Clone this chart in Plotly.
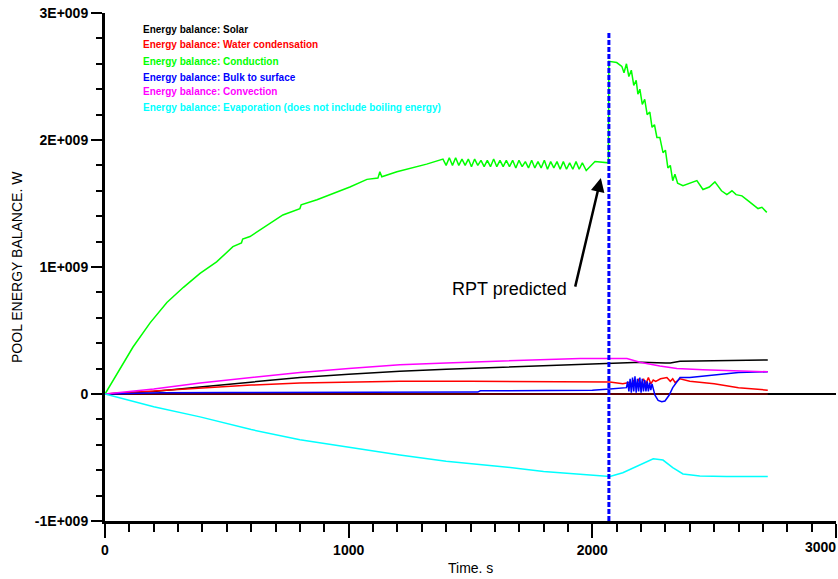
import plotly.graph_objects as go

# ---- pool energy balance data (time in s, power in W) ----
solar_t = [0, 200, 390, 600, 800, 1000, 1210, 1400, 1621, 1800, 1950, 2100, 2200, 2300,
           2320, 2360, 2500, 2720]
solar_v = [0, 0.02e9, 0.055e9, 0.095e9, 0.13e9, 0.155e9, 0.18e9, 0.195e9, 0.21e9, 0.225e9,
           0.235e9, 0.245e9, 0.25e9, 0.245e9, 0.245e9, 0.257e9, 0.262e9, 0.268e9]

cond_water_t = [0, 200, 390, 600, 800, 1000, 1210, 1500, 1800, 2000, 2072, 2125, 2150, 2160,
                2170, 2180, 2190, 2200, 2210, 2220, 2230, 2240, 2250, 2260, 2280, 2306, 2320,
                2330, 2340, 2360, 2400, 2500, 2600, 2720]
cond_water_v = [0, 0.025e9, 0.047e9, 0.07e9, 0.087e9, 0.095e9, 0.1e9, 0.1e9, 0.1e9, 0.1e9,
                0.095e9, 0.08e9, 0.09e9, 0.07e9, 0.11e9, 0.06e9, 0.12e9, 0.07e9, 0.12e9,
                0.08e9, 0.13e9, 0.08e9, 0.11e9, 0.10e9, 0.12e9, 0.13e9, 0.10e9, 0.12e9,
                0.09e9, 0.12e9, 0.10e9, 0.08e9, 0.05e9, 0.03e9]

conduction_t = [0, 48, 115, 185, 254, 322, 390, 458, 525, 560, 565, 595, 665, 730, 800, 805,
                870, 936, 1005, 1075, 1120, 1128, 1136, 1198, 1260, 1320, 1387,
                1400, 1413, 1426, 1439, 1452, 1465, 1478, 1491, 1504, 1517, 1530, 1543, 1556,
                1569, 1582, 1595, 1608, 1621, 1634, 1647, 1660, 1673, 1686, 1699, 1712, 1725,
                1738, 1751, 1764, 1777, 1790, 1803, 1816, 1829, 1842, 1855, 1868, 1881, 1894,
                1907, 1920, 1933, 1946, 1959, 1975, 2011, 2066,
                2068, 2100, 2121, 2130, 2140, 2150, 2160, 2170, 2180, 2187, 2195, 2205, 2215,
                2225, 2236, 2245, 2255, 2265, 2277, 2290, 2300, 2310, 2320, 2330, 2339, 2350,
                2372, 2400, 2429, 2454, 2480, 2503, 2530, 2552, 2573, 2590, 2614, 2640, 2680,
                2696, 2716]
conduction_v = [0, 0.155e9, 0.37e9, 0.56e9, 0.72e9, 0.84e9, 0.95e9, 1.04e9, 1.16e9, 1.19e9,
                1.22e9, 1.24e9, 1.33e9, 1.41e9, 1.46e9, 1.49e9, 1.53e9, 1.58e9, 1.63e9, 1.69e9,
                1.70e9, 1.75e9, 1.71e9, 1.75e9, 1.78e9, 1.81e9, 1.85e9,
                1.80e9, 1.86e9, 1.80e9, 1.86e9, 1.80e9, 1.85e9, 1.80e9, 1.85e9, 1.79e9, 1.85e9,
                1.80e9, 1.84e9, 1.79e9, 1.84e9, 1.79e9, 1.85e9, 1.79e9, 1.84e9, 1.79e9, 1.84e9,
                1.79e9, 1.84e9, 1.78e9, 1.84e9, 1.79e9, 1.83e9, 1.78e9, 1.84e9, 1.78e9, 1.83e9,
                1.78e9, 1.84e9, 1.77e9, 1.83e9, 1.78e9, 1.83e9, 1.77e9, 1.83e9, 1.77e9, 1.82e9,
                1.77e9, 1.83e9, 1.77e9, 1.82e9, 1.76e9, 1.83e9, 1.82e9,
                2.62e9, 2.61e9, 2.58e9, 2.53e9, 2.60e9, 2.50e9, 2.55e9, 2.43e9, 2.47e9, 2.36e9,
                2.40e9, 2.28e9, 2.32e9, 2.20e9, 2.22e9, 2.10e9, 2.12e9, 2.02e9, 2.02e9, 1.90e9,
                1.92e9, 1.78e9, 1.80e9, 1.68e9, 1.73e9, 1.66e9, 1.64e9, 1.66e9, 1.68e9, 1.61e9,
                1.63e9, 1.67e9, 1.60e9, 1.57e9, 1.60e9, 1.57e9, 1.56e9, 1.52e9, 1.46e9, 1.47e9,
                1.43e9]

bulk_t = [0, 100, 230, 500, 800, 1100, 1530, 1540, 1800, 2000, 2072, 2125, 2140, 2145, 2150,
          2155, 2160, 2165, 2170, 2175, 2180, 2185, 2190, 2195, 2200, 2205, 2210, 2215, 2220,
          2225, 2230, 2235, 2240, 2245, 2250, 2257, 2270, 2285, 2298, 2315, 2330, 2347, 2360,
          2400, 2450, 2500, 2550, 2600, 2720]
bulk_v = [0, 0.005e9, 0.01e9, 0.012e9, 0.013e9, 0.015e9, 0.015e9, 0.025e9, 0.027e9, 0.03e9,
          0.04e9, 0.045e9, 0.05e9, 0.10e9, 0.02e9, 0.12e9, 0.01e9, 0.13e9, 0.02e9, 0.14e9,
          0.01e9, 0.12e9, 0.02e9, 0.13e9, 0.01e9, 0.12e9, 0.02e9, 0.11e9, 0.02e9, 0.10e9,
          0.02e9, 0.09e9, 0.03e9, 0.08e9, 0.03e9, -0.01e9, -0.05e9, -0.06e9, -0.055e9,
          -0.01e9, 0.05e9, 0.10e9, 0.13e9, 0.13e9, 0.14e9, 0.15e9, 0.16e9, 0.17e9, 0.175e9]

convection_t = [0, 200, 390, 600, 800, 1000, 1210, 1400, 1621, 1800, 1950, 2142, 2195, 2277,
                2347, 2454, 2600, 2720]
convection_v = [0, 0.04e9, 0.087e9, 0.13e9, 0.17e9, 0.20e9, 0.23e9, 0.245e9, 0.26e9, 0.275e9,
                0.28e9, 0.28e9, 0.25e9, 0.22e9, 0.20e9, 0.19e9, 0.18e9, 0.175e9]

evap_t = [0, 100, 200, 390, 600, 800, 1000, 1210, 1400, 1621, 1800, 1950, 2072, 2125, 2195,
          2250, 2290, 2330, 2372, 2441, 2550, 2720]
evap_v = [0, -0.05e9, -0.10e9, -0.18e9, -0.28e9, -0.36e9, -0.42e9, -0.48e9, -0.53e9, -0.57e9,
          -0.61e9, -0.635e9, -0.65e9, -0.62e9, -0.56e9, -0.51e9, -0.52e9, -0.58e9, -0.63e9,
          -0.645e9, -0.65e9, -0.65e9]

# flat trace running along zero
other_t = [0, 2720]
other_v = [0, 0]

# RPT prediction time and marker extent
rpt_time = 2068
rpt_span = [-1e9, 2.85e9]

series = [
    ("Energy balance: Solar", solar_t, solar_v, "#000000"),
    ("Energy balance: Water condensation", cond_water_t, cond_water_v, "#FF0000"),
    ("Energy balance: Conduction", conduction_t, conduction_v, "#00FF00"),
    ("Energy balance: Bulk to surface", bulk_t, bulk_v, "#0000FF"),
    ("Energy balance: Convection", convection_t, convection_v, "#FF00FF"),
    ("Energy balance: Evaporation (does not include boiling energy)", evap_t, evap_v, "#00FFFF"),
]

y_tickvals = [-1e9, 0, 1e9, 2e9, 3e9]
y_ticktext = ["-1E+009", "0", "1E+009", "2E+009", "3E+009"]
x_tickvals = [0, 1000, 2000, 3000]
x_ticktext = ["0", "1000", "2000", ""]

FONT = "Arial, Liberation Sans, sans-serif"

fig = go.Figure()

fig.add_trace(go.Scatter(x=other_t, y=other_v, mode="lines",
                         line=dict(color="#800000", width=1.5), showlegend=False))

for name, t, v, color in series:
    fig.add_trace(go.Scatter(x=t, y=v, mode="lines", name=name,
                             line=dict(color=color, width=1.5), showlegend=False))

fig.add_trace(go.Scatter(x=[rpt_time, rpt_time], y=rpt_span, mode="lines",
                         line=dict(color="#0000FF", width=3, dash="5px,2px"),
                         showlegend=False))

# coloured legend text
annotations = []
legend_y = [0.9685, 0.938, 0.9055, 0.874, 0.8445, 0.813]
for (name, _, _, color), ly in zip(series, legend_y):
    annotations.append(dict(xref="paper", yref="paper", x=0.049, y=ly, text=name,
                            showarrow=False, xanchor="left", yanchor="middle",
                            font=dict(family=FONT, size=10, color=color, weight="bold")))

# arrow pointing at the RPT moment
annotations.append(dict(x=2035, y=1.70e9, xref="x", yref="y", text="", showarrow=True,
                        ax=-26, ay=110, arrowhead=2, arrowsize=1.1, arrowwidth=2.5,
                        arrowcolor="#000000"))
annotations.append(dict(x=1658, y=0.83e9, xref="x", yref="y", text="RPT predicted",
                        showarrow=False, font=dict(family=FONT, size=18, color="#000000")))

# axis titles
annotations.append(dict(xref="paper", yref="paper", x=-0.1204, y=0.5, text="POOL ENERGY BALANCE. W",
                        textangle=-90, showarrow=False, xanchor="center", yanchor="middle",
                        font=dict(family=FONT, size=14, color="#000000")))
annotations.append(dict(xref="paper", yref="paper", x=0.5, y=-0.0925, text="Time. s",
                        showarrow=False, xanchor="center", yanchor="middle",
                        font=dict(family=FONT, size=14, color="#000000")))
# last x tick label, pulled inside the page edge
annotations.append(dict(x=3000, y=-1e9, xref="x", yref="y", text="3000", showarrow=False,
                        xanchor="right", yanchor="top", xshift=2, yshift=-16,
                        font=dict(family=FONT, size=14, color="#000000", weight="bold")))

fig.update_layout(
    width=838, height=579,
    margin=dict(l=105, r=2, t=13, b=58, pad=0),
    paper_bgcolor="white", plot_bgcolor="white",
    showlegend=False,
    annotations=annotations,
    xaxis=dict(range=[0, 3000], showgrid=False, zeroline=False,
               showline=True, linecolor="#000000", linewidth=3,
               tickmode="array", tickvals=x_tickvals, ticktext=x_ticktext,
               ticks="outside", ticklen=14, tickwidth=1.5, tickcolor="#000000",
               tickfont=dict(family=FONT, size=14, color="#000000", weight="bold"),
               minor=dict(tickmode="linear", tick0=0, dtick=100, ticks="outside",
                          ticklen=8, tickwidth=1.5, tickcolor="#000000")),
    yaxis=dict(range=[-1e9, 3e9], showgrid=False, zeroline=True,
               zerolinecolor="#000000", zerolinewidth=1.5,
               showline=True, linecolor="#000000", linewidth=3,
               tickmode="array", tickvals=y_tickvals, ticktext=y_ticktext,
               ticks="outside", ticklen=11, tickwidth=1.5, tickcolor="#000000",
               tickfont=dict(family=FONT, size=14, color="#000000", weight="bold"),
               minor=dict(tickmode="linear", tick0=0, dtick=2e8, ticks="outside",
                          ticklen=6, tickwidth=1.5, tickcolor="#000000")),
)

fig.write_html("out.html")
